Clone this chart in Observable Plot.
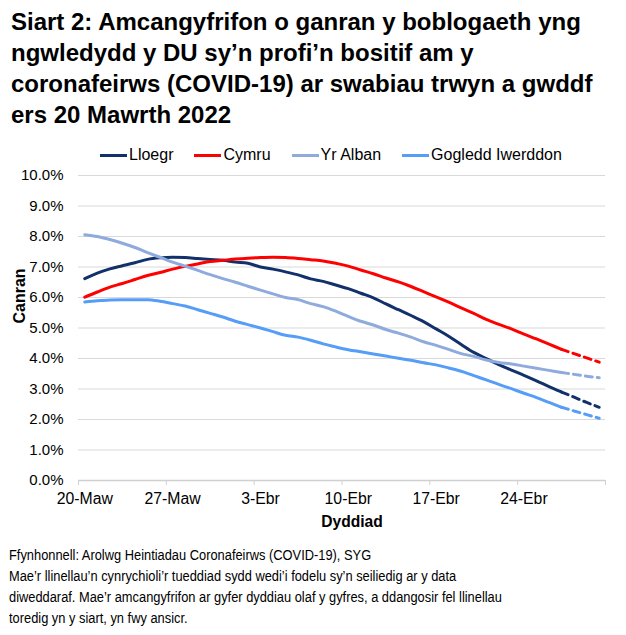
<!DOCTYPE html>
<html>
<head>
<meta charset="utf-8">
<script src="https://cdn.jsdelivr.net/npm/d3@7"></script>
<script src="https://cdn.jsdelivr.net/npm/@observablehq/plot@0.6"></script>
<style>
  body { margin: 0; background: #fff; font-family: "Liberation Sans", Arial, sans-serif; color: #000; }
  #wrap { position: relative; width: 626px; height: 635px; overflow: hidden; }
  #title { position: absolute; left: 11px; top: 5.7px; font-weight: bold; font-size: 24px; line-height: 31px; white-space: nowrap; }
  #legend { position: absolute; left: 100px; top: 147px; height: 16px; display: flex; align-items: center; gap: 21px; font-size: 16px; line-height: 16px; }
  #legend .item { display: flex; align-items: center; }
  #legend .sw { display: inline-block; width: 27px; height: 3px; margin-right: 2px; }
  #chart { position: absolute; left: 0; top: 165px; }
  #xlabel { position: absolute; left: 352px; top: 514px; transform: translateX(-50%); font-weight: bold; font-size: 15.6px; line-height: 1; white-space: nowrap; }
  #ylabel { position: absolute; left: 20px; top: 296px; transform: translate(-50%, -50%) rotate(-90deg); font-weight: bold; font-size: 16px; line-height: 1; white-space: nowrap; }
  #caption { position: absolute; left: 9px; top: 543.5px; font-size: 15.4px; line-height: 21px; white-space: nowrap; transform: scaleX(0.835); transform-origin: left top; }
</style>
</head>
<body>
<div id="wrap">
  <div id="title">Siart 2: Amcangyfrifon o ganran y boblogaeth yng<br>ngwledydd y DU sy’n profi’n bositif am y<br>coronafeirws (COVID-19) ar swabiau trwyn a gwddf<br>ers 20 Mawrth 2022</div>
  <div id="legend"></div>
  <div id="chart"></div>
  <div id="xlabel">Dyddiad</div>
  <div id="ylabel">Canran</div>
  <div id="caption">Ffynhonnell: Arolwg Heintiadau Coronafeirws (COVID-19), SYG<br>Mae’r llinellau’n cynrychioli’r tueddiad sydd wedi’i fodelu sy’n seiliedig ar y data<br>diweddaraf. Mae’r amcangyfrifon ar gyfer dyddiau olaf y gyfres, a ddangosir fel llinellau<br>toredig yn y siart, yn fwy ansicr.</div>
</div>
<script>
// Series names and colours
const seriesNames = ["Lloegr", "Cymru", "Yr Alban", "Gogledd Iwerddon"];
const seriesColors = ["#12316b", "#ff0000", "#8faadc", "#559df7"];

// Daily values (%), 20 March 2022 (day 0) to 30 April 2022 (day 41)
const lloegr = [6.62, 6.80, 6.94, 7.04, 7.14, 7.25, 7.30, 7.32, 7.31, 7.28, 7.25, 7.22, 7.16, 7.12, 7.00, 6.93, 6.84, 6.74, 6.61, 6.53, 6.41, 6.29, 6.14, 5.99, 5.79, 5.60, 5.41, 5.21, 4.97, 4.73, 4.46, 4.20, 4.00, 3.80, 3.62, 3.45, 3.27, 3.08, 2.90, 2.73, 2.56, 2.40];
const cymru = [6.01, 6.18, 6.34, 6.46, 6.59, 6.72, 6.82, 6.93, 7.02, 7.10, 7.18, 7.22, 7.26, 7.29, 7.31, 7.32, 7.31, 7.28, 7.24, 7.20, 7.12, 7.03, 6.90, 6.78, 6.64, 6.51, 6.36, 6.19, 6.02, 5.85, 5.66, 5.48, 5.28, 5.12, 4.97, 4.80, 4.64, 4.47, 4.30, 4.16, 4.02, 3.88];
const yrAlban = [8.06, 8.00, 7.90, 7.78, 7.64, 7.47, 7.32, 7.16, 7.03, 6.89, 6.75, 6.62, 6.50, 6.37, 6.24, 6.12, 6.00, 5.93, 5.80, 5.70, 5.55, 5.38, 5.22, 5.10, 4.95, 4.83, 4.70, 4.55, 4.43, 4.30, 4.16, 4.07, 3.95, 3.87, 3.82, 3.75, 3.68, 3.61, 3.54, 3.48, 3.42, 3.37];
const gogleddIwerddon = [5.85, 5.89, 5.92, 5.93, 5.93, 5.93, 5.88, 5.80, 5.72, 5.60, 5.48, 5.36, 5.22, 5.11, 5.00, 4.88, 4.76, 4.70, 4.60, 4.48, 4.38, 4.29, 4.22, 4.15, 4.08, 4.01, 3.94, 3.86, 3.79, 3.69, 3.58, 3.44, 3.30, 3.15, 3.01, 2.86, 2.72, 2.56, 2.40, 2.28, 2.16, 2.04];

// Last day drawn solid; later days are dashed (more uncertain)
const lastSolidDay = 38;

// X tick labels (every 7 days, starting day 0)
const xTickDays = [0, 7, 14, 21, 28, 35];
const xTickLabels = ["20-Maw", "27-Maw", "3-Ebr", "10-Ebr", "17-Ebr", "24-Ebr"];
const yTicks = [0, 1, 2, 3, 4, 5, 6, 7, 8, 9, 10];

const allSeries = [lloegr, cymru, yrAlban, gogleddIwerddon];
const rows = [];
allSeries.forEach((vals, s) => vals.forEach((v, i) => rows.push({series: seriesNames[s], day: i, value: v})));
const solid = rows.filter(d => d.day <= lastSolidDay);
const dashed = rows.filter(d => d.day >= lastSolidDay);
const nDays = lloegr.length;
const boundaries = d3.range(0, nDays + 1, 7).map(d => d - 0.5);

// Legend
const legend = document.getElementById("legend");
seriesNames.forEach((n, i) => {
  const it = document.createElement("div");
  it.className = "item";
  it.innerHTML = `<span class="sw" style="background:${seriesColors[i]}"></span><span>${n}</span>`;
  legend.appendChild(it);
});

const chart = Plot.plot({
  width: 626,
  height: 375,
  marginTop: 10,
  marginBottom: 60,
  marginLeft: 78,
  marginRight: 21,
  style: {fontFamily: "'Liberation Sans', Arial, sans-serif", color: "#000", background: "transparent"},
  x: {type: "linear", domain: [-0.5, nDays - 0.5]},
  y: {domain: [0, 10]},
  color: {domain: seriesNames, range: seriesColors},
  marks: [
    Plot.gridY(yTicks.filter(d => d > 0), {stroke: "#d9d9d9", strokeOpacity: 1}),
    Plot.ruleY([0], {stroke: "#d0d0d0", strokeWidth: 1.3}),
    Plot.axisY({ticks: yTicks, tickFormat: d => d.toFixed(1) + "%", tickSize: 0, tickPadding: 15, fontSize: 15, label: null}),
    Plot.axisX({ticks: xTickDays, tickFormat: (d, i) => xTickLabels[xTickDays.indexOf(d)], tickSize: 0, tickPadding: 12, fontSize: 15.8, label: null}),
    Plot.axisX({ticks: boundaries, tickFormat: () => "", tickSize: 5, stroke: "#d0d0d0", label: null}),
    Plot.line(solid, {x: "day", y: "value", z: "series", stroke: "series", strokeWidth: 3, curve: "monotone-x", strokeLinecap: "round"}),
    Plot.line(dashed, {x: "day", y: "value", z: "series", stroke: "series", strokeWidth: 3, curve: "monotone-x", strokeDasharray: "7,5"})
  ]
});
document.getElementById("chart").appendChild(chart);
</script>
</body>
</html>
